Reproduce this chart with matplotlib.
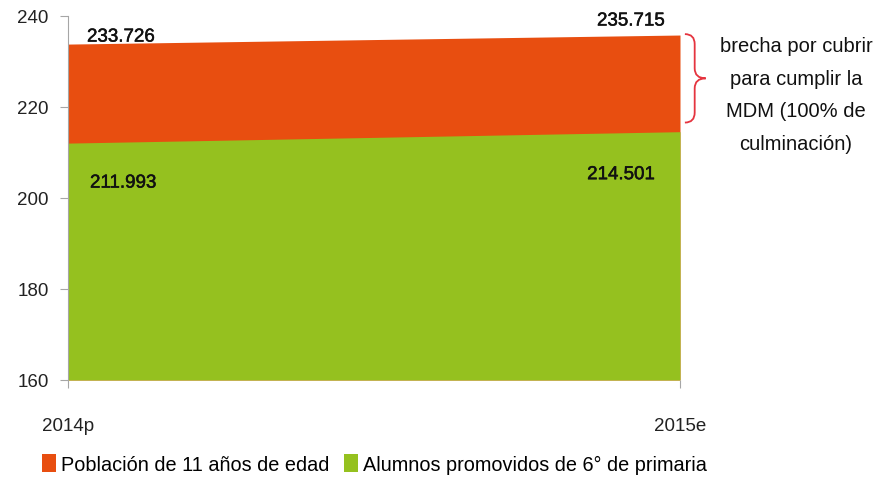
import matplotlib
matplotlib.use("Agg")
import matplotlib.pyplot as plt
import matplotlib.patheffects as pe
from matplotlib.path import Path
from matplotlib.patches import PathPatch
from matplotlib.transforms import blended_transform_factory

# datos (miles)
anios = ["2014p", "2015e"]
poblacion = [233.726, 235.715]
alumnos = [211.993, 214.501]
etiquetas_pob = ["233.726", "235.715"]
etiquetas_alu = ["211.993", "214.501"]
yticks = [160, 180, 200, 220, 240]

naranja = "#E84E10"
verde = "#95C11F"
gris = "#A6A6A6"

plt.rcParams['font.family'] = ['Liberation Sans', 'DejaVu Sans']

fig = plt.figure(figsize=(8.77, 4.81), dpi=100)
ax = fig.add_axes([68/877, 100/481, 612/877, 364.5/481])

x = [0, 1]
ax.fill_between(x, 160, poblacion, color=naranja, lw=0, label="Población de 11 años de edad")
ax.fill_between(x, 160, alumnos, color=verde, lw=0, label="Alumnos promovidos de 6° de primaria")

ax.set_xlim(0, 1)
ax.set_ylim(160, 240)
ax.set_yticks(yticks)
ax.set_xticks(x)
ax.set_xticklabels(anios)

for s in ["top", "right", "bottom"]:
    ax.spines[s].set_visible(False)
ax.spines["left"].set_color(gris)
ax.tick_params(axis="y", colors=gris, labelcolor="#222222", labelsize=13.5, length=6, pad=8)
ax.tick_params(axis="x", colors=gris, labelcolor="#222222", labelsize=13.5, length=6, pad=21)

# etiquetas de datos
negrita = [pe.withStroke(linewidth=0.35, foreground="#111111")]
offsets_pob = [((19, 7), "left"), ((-15, 14), "right")]
offsets_alu = [((22, -40), "left"), ((-25, -43), "right")]
for i in range(2):
    ax.annotate(etiquetas_pob[i], (x[i], poblacion[i]), xytext=offsets_pob[i][0],
                textcoords="offset pixels", ha=offsets_pob[i][1], va="center",
                fontsize=13.5, color="#111111", path_effects=negrita)
    ax.annotate(etiquetas_alu[i], (x[i], alumnos[i]), xytext=offsets_alu[i][0],
                textcoords="offset pixels", ha=offsets_alu[i][1], va="center",
                fontsize=13.5, color="#111111", path_effects=negrita)

# llave "}" de la brecha
tr = blended_transform_factory(ax.transAxes, ax.transData)
top, bot = poblacion[1] + 0.2, alumnos[1] + 2.0
mid = (top + bot) / 2
xl, xm, xr = 1.008, 1.024, 1.042
r = 2.2
verts = [(xl, top), (xm, top), (xm, top - r),
         (xm, mid + r), (xm, mid), (xr, mid),
         (xm, mid), (xm, mid - r),
         (xm, bot + r), (xm, bot), (xl, bot)]
codes = [Path.MOVETO, Path.CURVE3, Path.CURVE3,
         Path.LINETO, Path.CURVE3, Path.CURVE3,
         Path.CURVE3, Path.CURVE3,
         Path.LINETO, Path.CURVE3, Path.CURVE3]
ax.add_patch(PathPatch(Path(verts, codes), transform=tr, fill=False,
                       edgecolor="#E5343F", lw=1.3, clip_on=False))

fig.text(796/877, 1 - 95.5/481, "brecha por cubrir\npara cumplir la\nMDM (100% de\nculminación)",
         ha="center", va="center", fontsize=14.5, color="#111111", linespacing=1.93)

ax.legend(loc="center left", bbox_to_anchor=(42/877, 1 - 465/481), bbox_transform=fig.transFigure,
          ncol=2, frameon=False, fontsize=14.3, handlelength=0.7, handleheight=1.0,
          handletextpad=0.25, columnspacing=0.75, borderpad=0, borderaxespad=0)

fig.savefig("out.png", dpi=100)
